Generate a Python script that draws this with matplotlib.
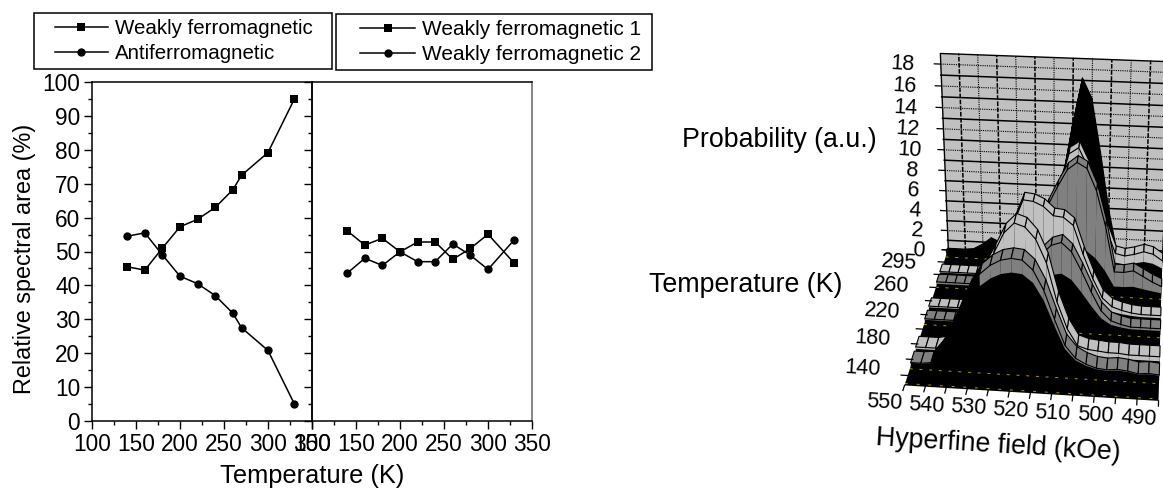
import numpy as np
import matplotlib
matplotlib.use("Agg")
import matplotlib.pyplot as plt
from matplotlib.patches import Rectangle
from mpl_toolkits.mplot3d.art3d import Poly3DCollection

plt.rcParams['font.family'] = ['Liberation Sans', 'DejaVu Sans']

# ---------- data: left panels ----------
temp_a = [140, 160, 180, 200, 220, 240, 260, 270, 300, 330]
weak_fm = [45.5, 44.5, 51, 57.3, 59.5, 63, 68.2, 72.5, 79.2, 95]
antifm = [54.5, 55.5, 49, 42.7, 40.5, 37, 31.8, 27.5, 20.8, 5]
temp_b = [140, 160, 180, 200, 220, 240, 260, 280, 300, 330]
weak_fm1 = [56.1, 51.9, 53.9, 49.9, 52.8, 52.8, 47.7, 50.9, 55.1, 46.5]
weak_fm2 = [43.6, 48, 45.9, 49.9, 47, 47, 52.2, 48.9, 44.7, 53.5]

# ---------- data: 3D panel ----------
field = [550, 547.5, 545, 542.5, 540, 537.5, 535, 532.5, 530, 527.5, 525, 522.5, 520,
         517.5, 515, 512.5, 510, 507.5, 505, 502.5, 500, 497.5, 495, 492.5, 490]
field_ticks = [550, 540, 530, 520, 510, 500, 490]
prob_ticks = [0, 2, 4, 6, 8, 10, 12, 14, 16, 18]
temp_labels = ['140', '180', '220', '260', '295']
temp_label_pos = [0, 2, 4, 6, 8]
prob_140 = [.3, .3, .4, 1.5, 3.2, 5.2, 7.2, 8.6, 9.4, 9.9, 10.1, 10, 9.2, 7.5, 5, 2.7, 1.6, 1.1, .8, .7, .8, .7, .5, .6, .5]
prob_160 = [.3, .3, .3, .5, 1.5, 3, 5, 7.5, 9.2, 11, 11.9, 11.6, 10.6, 8.6, 5.2, 2.8, 1.3, 1, .9, .8, .8, .7, .7, .7, .7]
prob_200 = [.3, .3, .3, .3, .3, .5, .6, 1, 1.5, 2.5, 4, 5.6, 6.9, 7.8, 8.1, 7.3, 5.6, 3.7, 2, 1.1, .8, .6, .6, .6, .6]
prob_220 = [.3, .3, .3, .3, .4, 1, 2, 3.5, 6, 8.5, 10.7, 10.6, 10.2, 9.4, 9.3, 8.6, 6, 3.8, 2, 1.2, .9, .7, .6, .6, .6]
prob_260 = [.3, .3, .3, .3, .3, .4, .6, 1, 1.8, 3, 4.2, 6, 8.2, 10, 11.6, 12.3, 11.8, 9.8, 6.5, 2.2, 2.2, 2.4, 1.9, 1.4, 1]
prob_280 = [.3, .3, .3, .3, .3, .3, .3, .4, .8, 1.5, 2.5, 4, 6.3, 9, 12.2, 12.8, 11, 8.2, 5.3, 3, 2.8, 3, 3.3, 3.1, 2.5]
prob_330 = [.3, .3, .3, .4, .9, 1.6, 1.2, .8, .6, 1, 1.5, 2, 3, 8, 13, 17.3, 15.5, 10.5, 5, .8, .2, .3, .5, .4, .3]

W, H = 1163, 488
fig = plt.figure(figsize=(W / 100, H / 100), dpi=100)


def fx(px):
    return px / W


def fy(py):
    return 1 - py / H


# ---------- left panels ----------
def panel(x0, x1):
    ax = fig.add_axes([fx(x0), fy(421), fx(x1 - x0), 339 / H])
    ax.set_xlim(100, 350)
    ax.set_ylim(0, 100)
    ax.set_xticks(range(100, 351, 50))
    ax.set_xticks(range(125, 350, 50), minor=True)
    ax.set_yticks(range(0, 101, 10))
    ax.set_yticks(range(5, 100, 10), minor=True)
    ax.tick_params(which='major', length=5.5, width=1.0, labelsize=16.3, pad=3)
    ax.tick_params(which='minor', length=3, width=1.0)
    for s in ax.spines.values():
        s.set_linewidth(1.1)
    return ax


ax1 = panel(92, 312)
ax2 = panel(312, 532)
ax2.tick_params(axis='y', which='both', labelleft=False)
ax2.spines['right'].set_color('#666666')
ax2.patch.set_alpha(0)
mk = dict(color='black', lw=1.1, ms=6, mew=0, clip_on=False)
l1, = ax1.plot(temp_a, weak_fm, marker='s', label='Weakly ferromagnetic', **mk)
l2, = ax1.plot(temp_a, antifm, marker='o', label='Antiferromagnetic', **mk)
l3, = ax2.plot(temp_b, weak_fm1, marker='s', label='Weakly ferromagnetic 1', **mk)
l4, = ax2.plot(temp_b, weak_fm2, marker='o', label='Weakly ferromagnetic 2', **mk)
fig.text(fx(25), fy(259), 'Relative spectral area (%)', rotation=90, fontsize=16.8, ha='center', va='center')
fig.text(fx(312), fy(476), 'Temperature (K)', fontsize=18.3, ha='center', va='center')

for (x0, y0, x1, y1), ax, hs, sz, dx in [((33.5, 13, 332, 69), ax1, [l1, l2], 14.8, 1),
                                         ((335.5, 14, 652, 70), ax2, [l3, l4], 15.0, 7)]:
    fig.add_artist(Rectangle((fx(x0), fy(y1)), fx(x1 - x0), (y1 - y0) / H, transform=fig.transFigure,
                             fc='white', ec='black', lw=1.1, zorder=-1))
    leg = ax.legend(handles=hs, loc='center', bbox_to_anchor=(fx((x0 + x1) / 2 + dx), fy((y0 + y1) / 2)),
                    bbox_transform=fig.transFigure, frameon=False, fontsize=sz, handlelength=2.6,
                    handletextpad=0.35, labelspacing=0.3, borderpad=0, borderaxespad=0)
    leg.set_zorder(5)

fig.text(fx(779), fy(140), 'Probability (a.u.)', fontsize=19.3, ha='center', va='center')
fig.text(fx(746), fy(285), 'Temperature (K)', fontsize=19.3, ha='center', va='center')
fig.text(fx(998), fy(446), 'Hyperfine field (kOe)', fontsize=19.3, ha='center', va='center', rotation=-3.5)

# ---------- 3D panel, with a projection calibrated on the box corners ----------
ax3 = fig.add_axes([fx(675), 0, H / W, 1], projection='3d')
ax3.set_axis_off()
ax3.set_proj_type('ortho')
ax3.computed_zorder = False
T_FRONT, T_BACK, Z_TOP = -0.6, 9.0, 19.0
anchors = [
    ((550, T_FRONT, 0), (905, 386)), ((490, T_FRONT, 0), (1158, 402)),
    ((550, T_BACK, 0), (948, 251)), ((490, T_BACK, 0), (1162, 259)),
    ((550, T_BACK, Z_TOP), (939, 53)), ((490, T_BACK, Z_TOP), (1171, 62)),
    ((550, T_FRONT, 10), (898, 270)), ((490, T_FRONT, 10), (1163, 286)),
]
inv = ax3.transData.inverted()
S = np.array([[1 / 30, 0, 0, -520 / 30], [0, 1 / 5, 0, -4 / 5], [0, 0, 1 / 10, 0], [0, 0, 0, 1]])
rows = []
for xyz, (u, v) in anchors:
    uu, vv = inv.transform((u, H - v))
    X = S @ np.array([*xyz, 1.0])
    rows.append([*X, 0, 0, 0, 0, *(-uu * X)])
    rows.append([0, 0, 0, 0, *X, *(-vv * X)])
P = np.linalg.svd(np.array(rows))[2][-1].reshape(3, 4)
if (P[2] @ np.array([0, 0, 0, 1.0])) < 0:
    P = -P
M3D = np.vstack([P[0], P[1], [0, 0.1, 0, -1], P[2]]) @ S
ax3.get_proj = lambda: M3D


def poly(verts, fc, z, ec='none', lw=0):
    c = Poly3DCollection(verts, facecolors=fc, edgecolors=ec, linewidths=lw)
    c.set_zorder(z)
    ax3.add_collection3d(c, autolim=False)


def label3d(x, y, z, s, dx, dy):
    v = M3D @ np.array([x, y, z, 1.0])
    px, py = ax3.transData.transform((v[0] / v[3], v[1] / v[3]))
    fig.text((px + dx) / W, (py + dy) / H, s, fontsize=15.5, ha='center', va='center', rotation=-3.4)


LIGHT, GREY = '#c0c0c0', '#808080'
# wall and floor
poly([[(550, T_BACK, 0), (490, T_BACK, 0), (490, T_BACK, Z_TOP), (550, T_BACK, Z_TOP)]], LIGHT, 0.2, 'black', 1.0)
poly([[(550, T_FRONT, 0), (490, T_FRONT, 0), (490, T_BACK, 0), (550, T_BACK, 0)]], 'black', 0.4)
for z in range(1, 19):
    solid = z % 2 == 1
    ax3.plot([550, 490], [T_BACK, T_BACK], [z, z], color='black', zorder=1.5, lw=1.1 if solid else 0.8,
             ls='-' if solid else (0, (1, 1)))
for i, f in enumerate(range(545, 489, -5)):
    solid = i % 2 == 0
    ax3.plot([f, f], [T_BACK, T_BACK], [0, Z_TOP], color='black', zorder=1.5, lw=1.1 if solid else 0.8,
             ls=(0, (3, 1)) if solid else (0, (1, 1)))

# ribbons, back to front: profile, front and back position, tile and band colours, band share, rise limit
ribbons = [
    (prob_330, 8.6, 8.9, 'black', 'black', 0.0, 1.0),
    (prob_280, 7.0, 7.6, LIGHT, LIGHT, 0.3, 5.0),
    (prob_260, 6.2, 6.8, GREY, GREY, 0.65, 5.0),
    (prob_220, 4.4, 5.0, LIGHT, LIGHT, 0.4, 5.0),
    (prob_200, 3.5, 4.1, GREY, GREY, 0.35, 1.0),
    (prob_160, 1.6, 2.3, LIGHT, LIGHT, 0.6, 5.0),
    (prob_140, 0.6, 1.33, GREY, GREY, 0.12, 1.0),
]
for k, (prob, ta, tb, col, bandcol, frac, rise) in enumerate(ribbons):
    z0 = 2 + k
    ax3.plot(field, [ta - 0.2] * len(field), [0.02] * len(field), color='#a89c00', lw=0.7, ls=(0, (3, 7)), zorder=z0 - 0.1)
    ax3.plot(field, [tb + 0.15] * len(field), [0.02] * len(field), color='#a89c00', lw=0.7, ls=(0, (2, 8)), zorder=z0 - 0.1)
    face = [(f, ta, z) for f, z in zip(field, prob)] + [(490, ta, 0), (550, ta, 0)]
    poly([face], 'black', z0)
    tiles, colors, bands = [], [], []
    for j in range(len(field) - 1):
        f0, f1, z1, z2 = field[j], field[j + 1], prob[j], prob[j + 1]
        rising = z2 - z1 > rise
        tiles.append([(f0, ta, z1), (f1, ta, z2), (f1, tb, z2), (f0, tb, z1)])
        colors.append('black' if rising else col)
        if frac > 0 and not rising:
            bands.append([(f0, ta, z1), (f1, ta, z2), (f1, ta, z2 * (1 - frac)), (f0, ta, z1 * (1 - frac))])
    if bands:
        poly(bands, bandcol, z0 + 0.1)
    poly(tiles, colors, z0 + 0.2, 'black', 0.8)
ax3.plot(field, [T_FRONT + 0.1] * len(field), [0.02] * len(field), color='#a89c00', lw=0.7, ls=(0, (3, 9)), zorder=12)

# axis ticks and labels
tick_kw = dict(color='black', lw=0.9, zorder=20)
for z in prob_ticks:
    ax3.plot([550, 551.6], [T_BACK, T_BACK], [z, z], **tick_kw)
    label3d(550, T_BACK, z, str(z), -29 - 0.5 * z, -0.5)
for f in range(550, 489, -5):
    ax3.plot([f, f], [T_FRONT, T_FRONT - 0.3], [0, 0], **tick_kw)
for f in field_ticks:
    label3d(f, T_FRONT, 0, str(f), -20, -17.5)
for t in range(0, 10):
    ax3.plot([550, 551.6], [t, t], [0, 0], **tick_kw)
for t, s in zip(temp_label_pos, temp_labels):
    label3d(550, t, 0, s, -45, 7 - 0.9 * t)

fig.savefig('out.png', dpi=100)
